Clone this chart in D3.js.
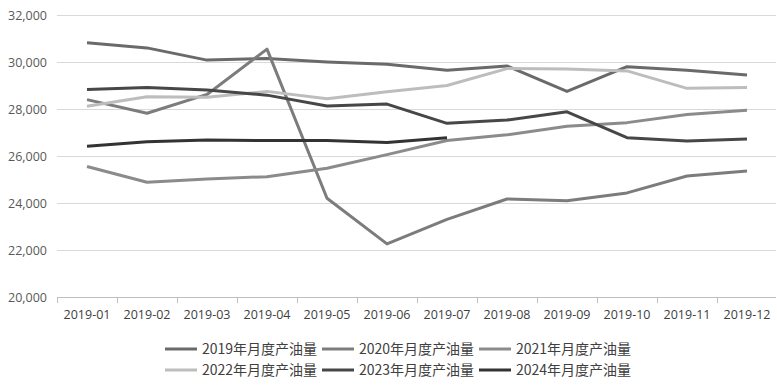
<!DOCTYPE html>
<html><head><meta charset="utf-8">
<script src="https://cdn.jsdelivr.net/npm/d3@7"></script>
<style>body{margin:0;background:#fff}svg{display:block}</style>
</head><body>
<svg id="c" width="777" height="385"></svg>
<script>
const months = ["2019-01","2019-02","2019-03","2019-04","2019-05","2019-06","2019-07","2019-08","2019-09","2019-10","2019-11","2019-12"];
const yTicks = [20000,22000,24000,26000,28000,30000,32000];
const seriesNames = ["2019年月度产油量","2020年月度产油量","2021年月度产油量","2022年月度产油量","2023年月度产油量","2024年月度产油量"];
const s2019 = [30820,30600,30080,30150,30000,29900,29650,29830,28750,29800,29650,29450];
const s2020 = [28400,27820,28620,30550,24200,22260,23300,24170,24100,24430,25150,25360];
const s2021 = [25550,24880,25020,25120,25480,26060,26660,26900,27270,27420,27770,27950];
const s2022 = [28120,28520,28500,28750,28440,28730,29000,29720,29700,29620,28880,28920];
const s2023 = [28830,28920,28810,28590,28130,28210,27390,27530,27880,26780,26640,26720];
const s2024 = [26420,26610,26680,26660,26660,26570,26780];
const seriesData = [s2019,s2020,s2021,s2022,s2023,s2024];
const colors = ["#6a6a6a","#7c7c7c","#8b8b8b","#bdbdbd","#474747","#333333"];

const svg = d3.select("#c");
const L = 57, R = 777, T = 15, B = 297;
const x = d3.scaleBand().domain(months).range([L, R]);
const y = d3.scaleLinear().domain([20000, 32000]).range([B, T]);

// grid
svg.append("g").selectAll("line").data(yTicks.filter(d=>d>20000)).join("line")
  .attr("x1", L).attr("x2", R-1).attr("y1", d=>y(d)+0.5).attr("y2", d=>y(d)+0.5)
  .attr("stroke", "#d9d9d9").attr("stroke-width", 1);

// y axis labels
const yAxis = d3.axisLeft(y).tickValues(yTicks).tickSize(0).tickPadding(10).tickFormat(d3.format(","));
const gy = svg.append("g").attr("transform", `translate(${L},0)`).call(yAxis);
gy.select(".domain").remove();
gy.selectAll("text").attr("font-family","'Open Sans', sans-serif").attr("font-size","12.5px").attr("fill","#595959");

// x axis
const xAxis = d3.axisBottom(x).tickSizeOuter(0).tickSize(0).tickPadding(13);
const gx = svg.append("g").attr("transform", `translate(0,${B+0.5})`).call(xAxis);
gx.select(".domain").attr("stroke","#bfbfbf").attr("d", `M${L},0H${R-1}`);
gx.selectAll("text").attr("font-family","'Open Sans', sans-serif").attr("font-size","12.5px").attr("fill","#404040");
// band boundary ticks
svg.append("g").selectAll("line").data(months).join("line")
  .attr("x1", d=>Math.round(x(d))+0.5).attr("x2", d=>Math.round(x(d))+0.5)
  .attr("y1", B).attr("y2", B+6).attr("stroke","#bfbfbf");

// lines
const line = d3.line().x((d,i)=>x(months[i])+x.bandwidth()/2).y(d=>y(d));
svg.append("g").selectAll("path").data(seriesData).join("path")
  .attr("d", d=>line(d)).attr("fill","none")
  .attr("stroke", (d,i)=>colors[i]).attr("stroke-width", 3)
  .attr("stroke-linejoin","round");

// legend
const legX = [165, 322, 479];
const legY = [349, 370];
const lg = svg.append("g").selectAll("g").data(seriesNames).join("g")
  .attr("transform", (d,i)=>`translate(${legX[i%3]},${legY[Math.floor(i/3)]})`);
lg.append("line").attr("x1",0).attr("x2",32).attr("y1",0).attr("y2",0)
  .attr("stroke",(d,i)=>colors[i]).attr("stroke-width",3);
lg.append("text").attr("x",37).attr("y",0).attr("dy","0.35em")
  .attr("font-family","'Noto Sans CJK SC', sans-serif").attr("font-size","14px")
  .attr("fill","#404040").text(d=>d);
</script>
</body></html>
